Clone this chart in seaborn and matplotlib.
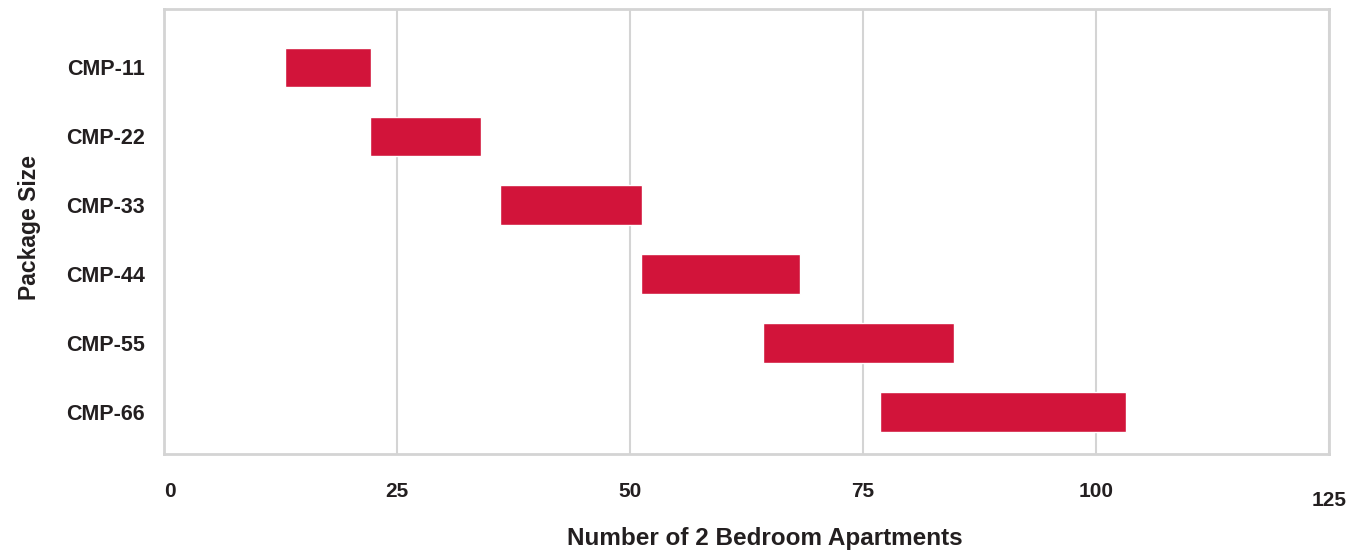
import matplotlib
matplotlib.use("Agg")
import matplotlib.pyplot as plt
import matplotlib.transforms as mtransforms
import seaborn as sns
import pandas as pd
import numpy as np

# Data
packages = ["CMP-11", "CMP-22", "CMP-33", "CMP-44", "CMP-55", "CMP-66"]
range_start = [13.0, 22.1, 36.0, 51.2, 64.3, 76.8]
range_end = [22.2, 34.0, 51.3, 68.2, 84.8, 103.2]
x_ticks = [0, 25, 50, 75, 100, 125]

BAR_COLOR = "#D2143A"
GRID_COLOR = "#D4D4D4"
TEXT_COLOR = "#231F20"
FONT = ["Liberation Sans", "DejaVu Sans"]

df = pd.DataFrame({
    "package": packages,
    "start": range_start,
    "width": np.array(range_end) - np.array(range_start),
})

sns.set_style("white")
plt.rcParams["font.family"] = FONT

fig = plt.figure(figsize=(13.68, 5.58), dpi=100)
ax = fig.add_axes([0.1199, 0.1864, 0.8516, 0.7975])

# floating bars: bar length = end - start, shifted by the start value
sns.barplot(data=df, x="width", y="package", order=packages, left=df["start"].values,
            color=BAR_COLOR, saturation=1, width=0.57, orient="h", ax=ax)

ax.set_xlim(0, 125)
ax.set_ylim(5.61, -0.845)
ax.set_xticks(x_ticks)
ax.grid(axis="x", color=GRID_COLOR, linewidth=1.5)
ax.set_axisbelow(True)
for s in ax.spines.values():
    s.set_color(GRID_COLOR)
    s.set_linewidth(2)

ax.tick_params(axis="both", length=0, colors=TEXT_COLOR)
ax.set_yticks(range(len(packages)))
ax.set_yticklabels(packages, fontsize=15.5, fontweight="bold", color=TEXT_COLOR)
ax.tick_params(axis="y", pad=14)
ax.set_xticklabels([str(t) for t in x_ticks], fontsize=15, fontweight="bold", color=TEXT_COLOR)
ax.tick_params(axis="x", pad=20)

# reference puts "0" flush left and "125" a little lower
labels = ax.get_xticklabels()
labels[0].set_horizontalalignment("left")
labels[-1].set_transform(labels[-1].get_transform() +
                         mtransforms.ScaledTranslation(0, -6.5 / 72, fig.dpi_scale_trans))

ax.set_xlabel("Number of 2 Bedroom Apartments", fontsize=17.5, fontweight="bold", color=TEXT_COLOR)
ax.xaxis.set_label_coords(0.516, -0.165)
ax.set_ylabel("Package Size", fontsize=16.5, fontweight="bold", color=TEXT_COLOR)
ax.yaxis.set_label_coords(-0.106, 0.508)

fig.savefig("out.png", dpi=100)
